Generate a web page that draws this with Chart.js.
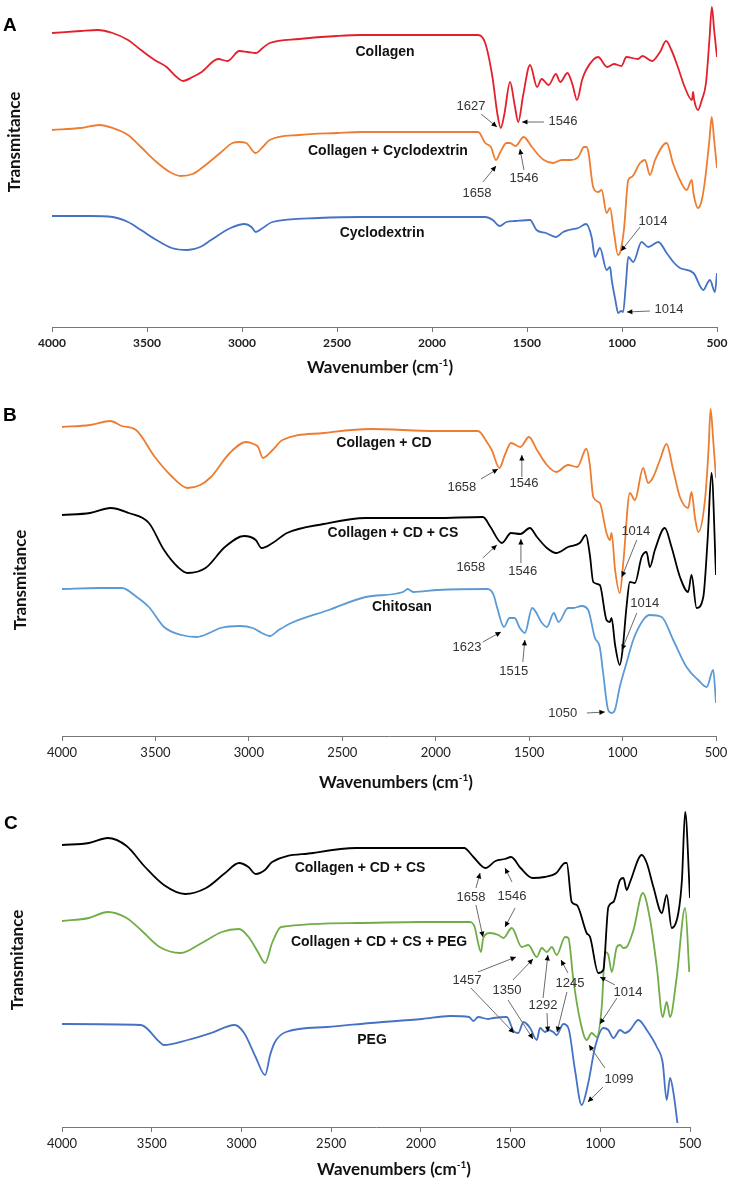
<!DOCTYPE html>
<html>
<head>
<meta charset="utf-8">
<script src="https://cdn.jsdelivr.net/npm/chart.js@4.4.1/dist/chart.umd.min.js"></script>
<style>
  body { margin: 0; background: #fff; }
  #wrap { position: relative; width: 736px; height: 1193px; overflow: hidden; }
  canvas { position: absolute; left: 0; }
  .letter { position: absolute; font: bold 19px "Liberation Sans", Arial, sans-serif; color: #000; transform: translate(0, -50%); }
  .ytitle { position: absolute; font: bold 17px Lato, "Open Sans", sans-serif; color: #111; white-space: nowrap;
            transform: translate(-50%, -50%) rotate(-90deg); }
  .xtitle { position: absolute; font: bold 17px Lato, "Open Sans", sans-serif; color: #111; white-space: nowrap;
            transform: translate(-50%, -50%); }
  .xtitle sup { font-size: 10px; }
</style>
</head>
<body>
<div id="wrap">
  <canvas id="chartA" width="736" height="380" style="top:0"></canvas>
  <canvas id="chartB" width="736" height="410" style="top:380px"></canvas>
  <canvas id="chartC" width="736" height="403" style="top:790px"></canvas>

  <div class="letter" style="left:3px;top:25px">A</div>
  <div class="letter" style="left:3px;top:415px">B</div>
  <div class="letter" style="left:4px;top:823px">C</div>

  <div class="ytitle" style="left:13px;top:142px">Transmitance</div>
  <div class="ytitle" style="left:19px;top:580px">Transmitance</div>
  <div class="ytitle" style="left:16px;top:960px">Transmitance</div>

  <div class="xtitle" style="left:380px;top:366px">Wavenumber (cm<sup>-1</sup>)</div>
  <div class="xtitle" style="left:396px;top:781px">Wavenumbers (cm<sup>-1</sup>)</div>
  <div class="xtitle" style="left:394px;top:1168px">Wavenumbers (cm<sup>-1</sup>)</div>
</div>
<script>
// tick labels (wavenumber, cm-1)
const xTicks = [4000, 3500, 3000, 2500, 2000, 1500, 1000, 500];

// ---- panel A : [wavenumber, transmittance (a.u.)]
const aCollagen = [[4000,294],[3850,296],[3760,297],[3681,294],[3600,287],[3532,277],[3460,267],[3397,260],[3350,251],[3310,246],[3260,250],[3212,255],[3126,268],[3076,266],[3014,276],[2970,275],[2928,274],[2891,279],[2854,284],[2700,288],[2500,291],[2374,292],[2000,292],[1757,292],[1720,284],[1682,250],[1655,212],[1638,199],[1620,212],[1589,245],[1565,222],[1546,205],[1520,232],[1484,262],[1447,240],[1423,248],[1386,242],[1348,253],[1325,245],[1287,254],[1260,242],[1237,227],[1210,247],[1189,257],[1126,270],[1078,260],[1042,263],[1003,261],[977,270],[916,268],[892,271],[842,266],[800,275],[768,286],[740,277],[706,260],[670,240],[632,227],[626,235],[620,227],[600,217],[580,227],[558,244],[540,287],[527,320],[515,297],[500,270]];
const aCollagenCD = [[4000,197],[3850,199],[3750,202],[3681,199],[3600,192],[3532,180],[3450,165],[3380,155],[3323,151],[3260,153],[3212,159],[3115,174],[3050,184],[3014,185],[2978,184],[2928,174],[2891,180],[2854,187],[2700,192],[2500,194],[2374,195],[2000,195],[1757,195],[1720,184],[1690,180],[1663,167],[1640,175],[1608,184],[1590,184],[1560,181],[1518,190],[1474,180],[1440,172],[1411,167],[1364,164],[1317,167],[1270,167],[1230,170],[1200,180],[1186,180],[1176,174],[1152,140],[1126,135],[1107,137],[1081,114],[1063,119],[1042,94],[1021,72],[1011,74],[990,97],[967,147],[949,150],[905,164],[879,167],[853,152],[826,167],[765,184],[732,164],[695,147],[660,137],[633,147],[624,134],[600,119],[580,127],[563,147],[540,187],[528,210],[515,187],[500,159]];
const aCyclodextrin = [[4000,111],[3800,111],[3681,110],[3600,105],[3532,97],[3450,87],[3370,79],[3286,77],[3220,80],[3163,87],[3060,99],[2986,103],[2950,100],[2928,95],[2891,99],[2840,105],[2600,109],[2374,110],[2000,110],[1720,110],[1680,107],[1645,101],[1608,105],[1560,106],[1484,107],[1450,97],[1400,94],[1348,90],[1310,95],[1280,97],[1230,99],[1189,103],[1160,90],[1142,70],[1116,79],[1081,57],[1063,60],[1054,47],[1035,27],[1020,14],[1005,16],[994,15],[980,42],[967,70],[941,65],[897,85],[862,80],[809,85],[765,74],[730,65],[695,59],[624,54],[572,37],[550,44],[537,47],[511,35],[500,54]];

// ---- panel B
const bCollagenCD = [[4000,309],[3850,311],[3740,315],[3680,310],[3604,306],[3503,279],[3420,261],[3328,248],[3260,251],[3203,259],[3102,283],[3015,294],[2975,292],[2950,289],[2925,278],[2873,286],[2820,296],[2600,303],[2349,307],[2000,305],[1774,305],[1723,293],[1700,286],[1659,268],[1630,281],[1597,293],[1547,289],[1501,299],[1458,286],[1405,271],[1355,264],[1292,271],[1242,269],[1201,286],[1193,287],[1175,271],[1157,239],[1122,233],[1086,203],[1068,196],[1059,203],[1040,166],[1015,143],[995,176],[961,243],[934,236],[890,268],[863,253],[836,259],[800,276],[765,292],[729,266],[693,239],[649,228],[631,244],[613,219],[595,204],[559,236],[540,286],[529,327],[515,296],[500,258]];
const bCollagenCDCS = [[4000,221],[3850,223],[3740,228],[3642,223],[3535,213],[3454,186],[3380,169],[3328,163],[3232,168],[3128,189],[3026,200],[2963,196],[2932,188],[2873,193],[2796,203],[2600,212],[2375,218],[2000,218],[1747,219],[1707,209],[1646,193],[1597,203],[1547,202],[1496,208],[1458,199],[1405,188],[1355,183],[1292,189],[1229,193],[1196,201],[1175,181],[1157,154],[1122,151],[1086,116],[1068,114],[1059,118],[1040,91],[1015,71],[1000,86],[979,129],[961,154],[934,153],[898,179],[872,184],[854,169],[827,186],[774,208],[738,189],[693,159],[649,144],[631,161],[604,128],[568,139],[545,196],[524,263],[500,161]];
const bChitosan = [[4000,147],[3800,148],[3679,148],[3600,139],[3535,129],[3454,109],[3360,101],[3278,99],[3200,104],[3152,108],[3047,110],[2980,108],[2930,103],[2889,100],[2840,106],[2773,113],[2572,126],[2375,139],[2175,144],[2150,147],[2120,144],[1990,146],[1722,147],[1690,141],[1672,129],[1635,109],[1605,118],[1578,118],[1550,108],[1523,103],[1484,128],[1431,113],[1405,109],[1368,123],[1343,114],[1292,128],[1264,128],[1219,130],[1184,126],[1148,98],[1122,89],[1104,63],[1077,26],[1059,23],[1041,26],[1015,49],[979,73],[943,96],[890,116],[854,121],[791,119],[729,96],[658,69],[595,56],[550,49],[515,66],[500,33]];

// ---- panel C
const cCollagenCDCS = [[4000,282],[3850,284],[3745,289],[3640,281],[3537,260],[3432,242],[3314,233],[3197,239],[3091,254],[3013,264],[2961,260],[2921,253],[2869,257],[2829,265],[2600,274],[2361,279],[2000,279],[1759,279],[1707,270],[1640,259],[1584,266],[1531,268],[1497,270],[1444,259],[1377,249],[1311,250],[1245,254],[1196,264],[1187,264],[1159,225],[1131,222],[1076,194],[1057,190],[1011,154],[983,157],[955,220],[927,225],[890,247],[871,249],[853,237],[834,245],[769,272],[741,264],[704,240],[657,214],[630,232],[602,199],[565,214],[545,247],[527,315],[500,229]];
const cCollagenCDCSPEG = [[4000,206],[3850,209],[3745,215],[3640,209],[3560,197],[3456,180],[3339,174],[3221,184],[3110,195],[3013,198],[2960,190],[2908,175],[2868,164],[2829,184],[2779,200],[2361,204],[2000,205],[1731,205],[1700,200],[1681,184],[1665,175],[1652,189],[1614,194],[1568,192],[1540,189],[1493,199],[1438,180],[1401,182],[1354,170],[1326,179],[1298,175],[1270,180],[1243,172],[1196,190],[1178,189],[1150,147],[1113,107],[1076,87],[1048,94],[1020,90],[992,120],[973,175],[955,172],[936,155],[908,180],[890,182],[871,179],[853,180],[815,197],[763,234],[722,207],[685,160],[652,110],[630,125],[611,110],[574,150],[527,219],[504,155]];
const cPEG = [[4000,103],[3560,102],[3456,85],[3432,82],[3300,87],[3169,94],[3038,102],[2985,94],[2921,70],[2868,52],[2840,72],[2816,84],[2752,95],[2523,100],[2280,104],[1993,108],[1837,111],[1731,110],[1707,106],[1681,110],[1625,108],[1596,109],[1521,110],[1484,96],[1457,94],[1428,105],[1391,99],[1354,87],[1336,99],[1308,95],[1289,97],[1262,95],[1243,92],[1206,103],[1178,99],[1141,57],[1104,22],[1067,44],[1029,80],[983,99],[955,97],[927,89],[890,97],[862,94],[834,97],[788,107],[741,97],[685,80],[652,64],[630,27],[611,49],[592,34],[570,4]];

// ---- text labels [text, wavenumber, value, bold]
const aLabels = [["Collagen",2247,275,true],["1627",1795,221],["1546",1311,206],["Collagen + Cyclodextrin",2232,176,true],["1658",1763,134],["1546",1516,149],["Cyclodextrin",2263,94,true],["1014",837,106],["1014",753,18]];
const aArrows = [[1742,213,1658,200],[1411,205,1526,205],[1732,145,1663,161],[1516,157,1537,178],[905,100,1005,76],[853,16,974,15]];
const bLabels = [["Collagen + CD",2277,293,true],["1658",1860,249],["1546",1528,253],["Collagen + CD + CS",2229,203,true],["1658",1812,169],["1546",1534,165],["1014",929,205],["1014",881,133],["Chitosan",2181,129,true],["1623",1833,89],["1515",1582,65],["1050",1320,23]];
const bArrows = [[1758,257,1667,267],[1539,259,1539,281],[1748,178,1673,191],[1544,173,1544,197],[924,196,1004,159],[924,123,1004,86],[1748,94,1651,104],[1534,74,1523,96],[1191,23,1095,24]];
const cLabels = [["Collagen + CD + CS",2339,259,true],["1658",1721,230],["1546",1492,231],["Collagen + CD + CS + PEG",2233,185,true],["1457",1743,147],["1350",1520,137],["1292",1319,122],["1245",1169,144],["1014",846,135],["1099",896,48],["PEG",2272,87,true]];
const cArrows = [[1693,239,1670,254],[1693,222,1654,190],[1492,245,1531,259],[1475,219,1531,200],[1682,155,1470,170],[1721,139,1481,94],[1487,147,1375,168],[1514,127,1375,88],[1319,129,1292,172],[1297,114,1292,95],[1180,154,1219,167],[1186,135,1241,95],[918,142,1002,150],[907,129,1002,103],[974,59,1063,82],[985,40,1069,25]];

const toXY = arr => arr.map(p => ({ x: p[0], y: p[1] }));

const annotate = {
  id: 'annotate',
  afterDatasetsDraw(chart, args, opts) {
    const { ctx, scales: { x, y } } = chart;
    ctx.save();
    // arrows
    (opts.arrows || []).forEach(a => {
      const x1 = x.getPixelForValue(a[0]), y1 = y.getPixelForValue(a[1]);
      const x2 = x.getPixelForValue(a[2]), y2 = y.getPixelForValue(a[3]);
      ctx.strokeStyle = '#6b6b6b';
      ctx.lineWidth = 1;
      ctx.beginPath(); ctx.moveTo(x1, y1); ctx.lineTo(x2, y2); ctx.stroke();
      const ang = Math.atan2(y2 - y1, x2 - x1);
      ctx.fillStyle = '#000';
      ctx.beginPath();
      ctx.moveTo(x2, y2);
      ctx.lineTo(x2 - 6 * Math.cos(ang - 0.45), y2 - 6 * Math.sin(ang - 0.45));
      ctx.lineTo(x2 - 6 * Math.cos(ang + 0.45), y2 - 6 * Math.sin(ang + 0.45));
      ctx.closePath(); ctx.fill();
    });
    ctx.textAlign = 'center';
    ctx.textBaseline = 'middle';
    (opts.labels || []).forEach(l => {
      ctx.font = l[3] ? 'bold 14px "Liberation Sans", Arial, sans-serif' : '13px "Liberation Sans", Arial, sans-serif';
      ctx.fillStyle = l[3] ? '#111' : '#333';
      ctx.fillText(l[0], x.getPixelForValue(l[1]), y.getPixelForValue(l[2]));
    });
    ctx.restore();
  }
};

function makeChart(id, series, yMax, axisH, pad, labels, arrows, tickBold) {
  return new Chart(document.getElementById(id), {
    type: 'line',
    data: {
      datasets: series.map(s => ({
        data: toXY(s.data),
        borderColor: s.color,
        borderWidth: 1.8,
        pointRadius: 0,
        fill: false,
        cubicInterpolationMode: 'monotone'
      }))
    },
    options: {
      responsive: false,
      animation: false,
      layout: { padding: pad },
      plugins: {
        legend: { display: false },
        tooltip: { enabled: false },
        annotate: { labels: labels, arrows: arrows }
      },
      scales: {
        x: {
          type: 'linear', reverse: true, min: 500, max: 4000,
          afterBuildTicks: s => { s.ticks = xTicks.map(v => ({ value: v })); },
          afterFit: s => { s.height = axisH; },
          ticks: {
            autoSkip: false, maxRotation: 0, padding: 4, color: '#222',
            callback: v => String(v),
            font: { family: 'Lato, "Open Sans", sans-serif', size: tickBold ? 12 : 13, weight: tickBold ? 'bold' : 'normal' }
          },
          grid: { drawOnChartArea: false, drawTicks: true, tickLength: 5, color: '#777' },
          border: { display: true, color: '#777', width: 1 }
        },
        y: { display: false, min: 0, max: yMax }
      }
    },
    plugins: [annotate]
  });
}

makeChart('chartA', [
  { data: aCollagen, color: '#e3202b' },
  { data: aCollagenCD, color: '#ed7d31' },
  { data: aCyclodextrin, color: '#4472c4' }
], 327, 53, { left: 52, right: 19, top: 0, bottom: 0 }, aLabels, aArrows, true);

makeChart('chartB', [
  { data: bCollagenCD, color: '#ed7d31' },
  { data: bCollagenCDCS, color: '#000000' },
  { data: bChitosan, color: '#5b9bd5' }
], 356, 54, { left: 62, right: 20, top: 0, bottom: 0 }, bLabels, bArrows, false);

makeChart('chartC', [
  { data: cCollagenCDCS, color: '#000000' },
  { data: cCollagenCDCSPEG, color: '#70ad47' },
  { data: cPEG, color: '#4472c4' }
], 337, 66, { left: 62, right: 46, top: 0, bottom: 0 }, cLabels, cArrows, false);
</script>
</body>
</html>
